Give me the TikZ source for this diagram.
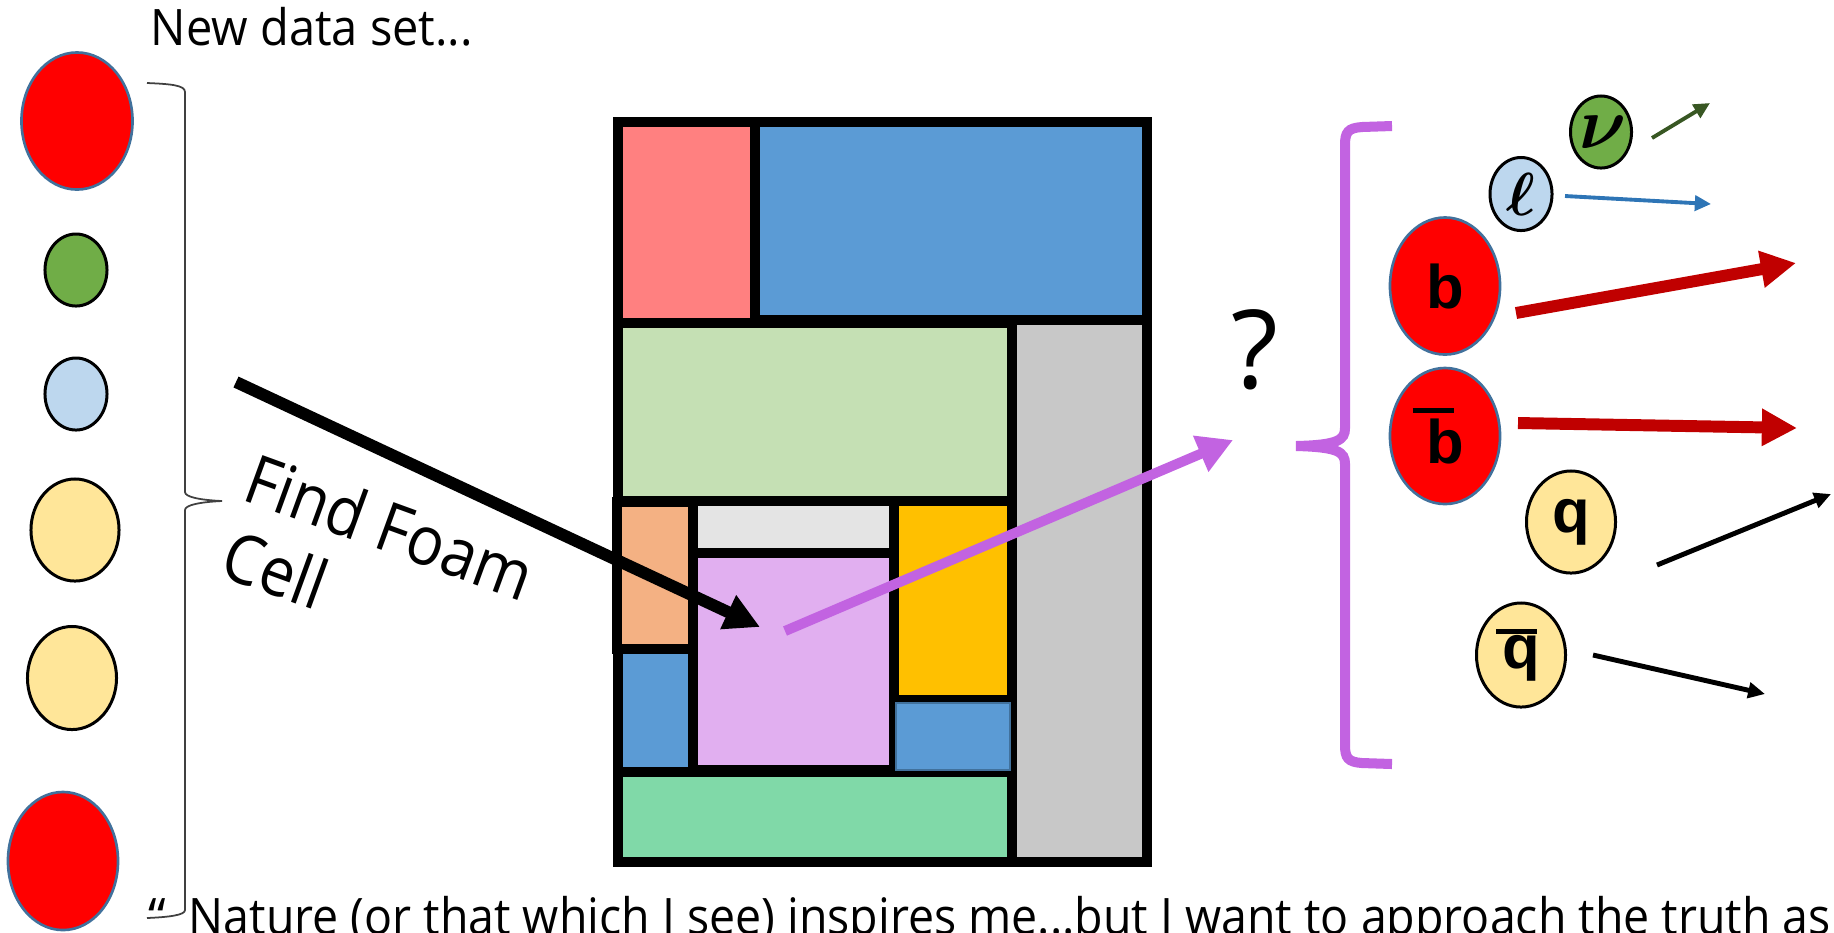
\documentclass[tikz,border=0pt]{standalone}
\usepackage{fontspec}
\usepackage{graphicx}
\setmainfont{Open Sans}
\newfontfamily\bsans{Liberation Sans}
\usetikzlibrary{shapes.geometric,arrows.meta}
\definecolor{cpink}{RGB}{255,128,128}
\definecolor{cblue}{RGB}{91,155,213}
\definecolor{clgreen}{RGB}{197,224,180}
\definecolor{cgray}{RGB}{200,200,200}
\definecolor{cpeach}{RGB}{244,177,131}
\definecolor{clgray}{RGB}{228,228,228}
\definecolor{clilac}{RGB}{225,175,240}
\definecolor{cgold}{RGB}{255,192,0}
\definecolor{cmint}{RGB}{128,217,168}
\definecolor{cpurple}{RGB}{194,99,225}
\definecolor{cred}{RGB}{255,0,0}
\definecolor{cdred}{RGB}{192,0,0}
\definecolor{credge}{RGB}{65,113,156}
\definecolor{cgreen}{RGB}{112,173,71}
\definecolor{cdgreen}{RGB}{56,87,35}
\definecolor{cpaleblue}{RGB}{189,215,238}
\definecolor{carrowblue}{RGB}{46,117,182}
\definecolor{cyellow}{RGB}{255,230,153}
\definecolor{cbraceline}{RGB}{64,64,64}
\newcommand\barb[1]{\leavevmode\rlap{\kern-0.22em\rule[0.83em]{0.67em}{0.085em}}#1}
\newcommand\barq[1]{\leavevmode\rlap{\kern-0.1em\rule[0.55em]{0.67em}{0.08em}}#1}
\newcommand\mathbi{\usefont{OML}{cmm}{b}{it}}
\begin{document}
\begin{tikzpicture}[x=0.01cm,y=-0.01cm,
  cell/.style={draw=black,line width=2.6pt},
  ball/.style={ellipse,draw=black,line width=0.85pt,inner sep=0pt},
  redball/.style={ellipse,draw=credge,line width=0.75pt,fill=cred,inner sep=0pt},
  sz/.style 2 args={minimum width=#1cm,minimum height=#2cm},
  partfont/.style={font=\bsans\bfseries\fontsize{17.5}{20}\selectfont},
  bigarrow/.style={line width=3.4pt,-{Triangle[length=10pt,width=10pt]}},
  thinarrow/.style={line width=1.1pt,-{Triangle[length=4.6pt,width=4.3pt]}},
  qarrow/.style={line width=1.4pt,-{Triangle[length=4.8pt,width=4.4pt]}},
  txt/.style={inner sep=0pt,font=\fontsize{14.3}{17}\selectfont}]
\useasboundingbox (0,0) rectangle (1834,932);
\clip (0,0) rectangle (1834,932);
% ---- texts
\node[txt,anchor=base west] (title) at (150,45) {\resizebox{3.22cm}{\height}{New data set...}};
\node[txt,anchor=base west] (quote) at (188,934) {\makebox[0pt][r]{“\hspace{0.45em}}\resizebox{16.41cm}{\height}{Nature (or that which I see) inspires me...but I want to approach the truth as}};
\node[inner sep=0pt,anchor=base west,rotate=-20,font=\fontsize{19.5}{22}\selectfont] (find) at (240,499) {\scalebox{0.9}[1]{Find Foam}};
\node[inner sep=0pt,anchor=base west,rotate=-20,font=\fontsize{19.5}{22}\selectfont] (cell) at (217,575) {\scalebox{0.9}[1]{Cell}};
\node[inner sep=0pt,font=\fontsize{31}{36}\selectfont] (qm) at (1255,350) {?};
% ---- left column
\node[redball,sz={1.11}{1.37}] (L1) at (77,121) {};
\node[ball,fill=cgreen,sz={0.62}{0.72}] (L2) at (76,270) {};
\node[ball,fill=cpaleblue,sz={0.62}{0.72}] (L3) at (76,394) {};
\node[ball,fill=cyellow,sz={0.88}{1.02}] (L4) at (75,530) {};
\node[ball,fill=cyellow,sz={0.89}{1.03}] (L5) at (72,678) {};
\node[redball,sz={1.10}{1.38}] (L6) at (63,861) {};
% ---- left brace
\draw[cbraceline,line width=0.5pt] (147,83) .. controls (170,84) and (185,85) .. (185,92) -- (185,492) .. controls (185,497) and (200,500) .. (222,501) .. controls (200,502) and (185,505) .. (185,510) -- (185,910) .. controls (185,915) and (170,917) .. (147,918);
% ---- foam cells
\filldraw[cell,fill=cpink] (618,122) rectangle (755,323);
\filldraw[cell,fill=cblue] (755,122) rectangle (1147,320);
\filldraw[cell,fill=clgreen] (618,323) rectangle (1012,501);
\filldraw[cell,fill=cgray] (1012,320) rectangle (1147,862);
\filldraw[cell,fill=cpeach] (617,502) rectangle (693,649);
\filldraw[cell,fill=cblue] (618,649) rectangle (693,772);
\filldraw[cell,fill=clgray] (693,501) rectangle (894,553);
\filldraw[cell,fill=clilac] (693,553) rectangle (894,770);
\filldraw[cell,fill=cgold] (894,501) rectangle (1012,700);
\filldraw[cell,fill=cblue] (894,700) rectangle (1012,772);
\filldraw[cell,fill=cmint] (618,772) rectangle (1012,862);
\filldraw[fill=cblue,draw=credge,line width=0.6pt] (896,703) rectangle (1010,770);
% ---- arrows into/out of foam
\coordinate (bk1) at (236,382);
\coordinate (bk2) at (760,627);
\draw[bigarrow] (bk1) -- (bk2);
\coordinate (pp1) at (785,631);
\coordinate (pp2) at (1233,440);
\draw[cpurple,line width=2.85pt,-{Triangle[length=10pt,width=10.5pt]}] (pp1) -- (pp2);
% ---- purple brace
\draw[cpurple,line width=2.85pt] (1392,126) -- (1362,127) .. controls (1348,128) and (1345,132) .. (1345,145) -- (1345,428) .. controls (1345,440) and (1338,445) .. (1296,446) .. controls (1338,447) and (1345,452) .. (1345,464) -- (1345,745) .. controls (1345,758) and (1348,762) .. (1362,763) -- (1392,764);
% ---- particles
\node[ball,fill=cgreen,sz={0.61}{0.72},font=\fontsize{21}{22}\mathbi] (nu) at (1601,132) {\char"17};
\node[ball,fill=cpaleblue,sz={0.62}{0.73},font=\fontsize{18.5}{20}\mathbi] (ell) at (1521,194) {\char"60};
\node[redball,sz={1.10}{1.37},partfont] (b) at (1445,286) {b};
\node[redball,sz={1.10}{1.36},partfont] (bb) at (1445,436) {\barb{b}};
\node[ball,fill=cyellow,sz={0.89}{1.02},partfont] (q) at (1571,522) {q};
\node[ball,fill=cyellow,sz={0.89}{1.04},partfont] (qb) at (1521,655) {\barq{q}};
% ---- particle arrows
\coordinate (nu1) at (1652,138); \coordinate (nu2) at (1710,103);
\draw[thinarrow,cdgreen] (nu1) -- (nu2);
\coordinate (ell1) at (1565,196); \coordinate (ell2) at (1711,204);
\draw[thinarrow,carrowblue] (ell1) -- (ell2);
\coordinate (b1) at (1516,313); \coordinate (b2) at (1796,263);
\draw[bigarrow,cdred] (b1) -- (b2);
\coordinate (bb1) at (1518,423); \coordinate (bb2) at (1797,428);
\draw[bigarrow,cdred] (bb1) -- (bb2);
\coordinate (q1) at (1657,565); \coordinate (q2) at (1831,494);
\draw[qarrow] (q1) -- (q2);
\coordinate (qb1) at (1593,655); \coordinate (qb2) at (1765,694);
\draw[qarrow] (qb1) -- (qb2);
\end{tikzpicture}
\end{document}
